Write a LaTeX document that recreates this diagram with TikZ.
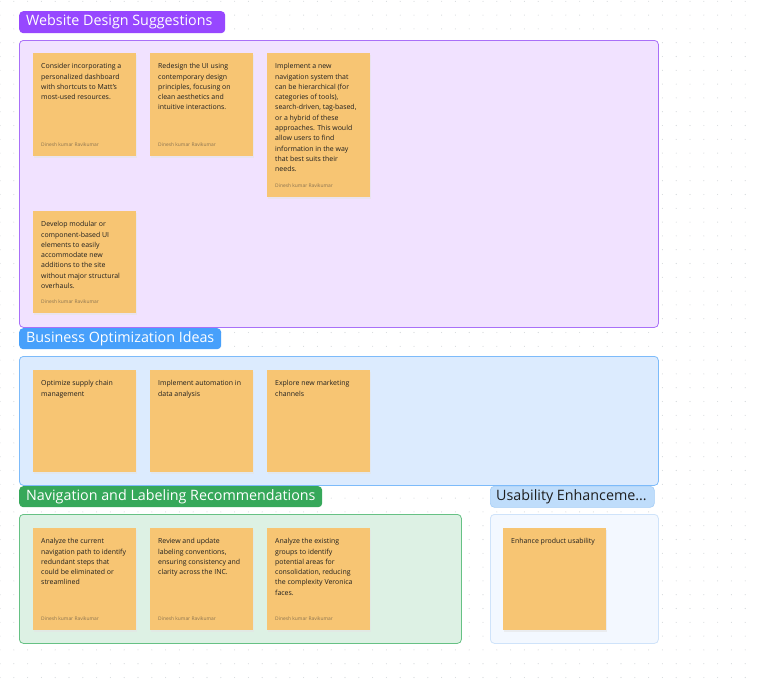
\documentclass[tikz,border=0pt]{standalone}
\usepackage{fontspec}
\setmainfont{Open Sans}
\definecolor{purpT}{HTML}{9747FF}
\definecolor{purpF}{HTML}{F1E2FF}
\definecolor{purpB}{HTML}{A970F8}
\definecolor{blueT}{HTML}{47A0FB}
\definecolor{blueF}{HTML}{DCEBFE}
\definecolor{blueB}{HTML}{7DBBFA}
\definecolor{greenT}{HTML}{36A85A}
\definecolor{greenF}{HTML}{DDF1E4}
\definecolor{greenB}{HTML}{66C184}
\definecolor{lbT}{HTML}{BFDDFB}
\definecolor{lbTB}{HTML}{A5CDF6}
\definecolor{lbF}{HTML}{F3F8FF}
\definecolor{lbB}{HTML}{CFE3FA}
\definecolor{sticky}{HTML}{F7C573}
\definecolor{ink}{HTML}{1E1E1E}
\definecolor{author}{HTML}{8A7350}
\definecolor{dotc}{HTML}{D3D7DA}
\tikzset{
  frame/.style={draw, line width=0.8pt, rounded corners=4pt, anchor=north west, inner sep=0pt},
  titlebox/.style={rounded corners=4pt, anchor=north west, inner sep=0pt, minimum height=22pt},
  titletext/.style={anchor=west, inner sep=0pt, font=\fontsize{14.3}{16}\selectfont},
  note/.style={fill=sticky, anchor=north west, inner sep=0pt, minimum width=103pt},
  shadowbox/.style={fill=black!10, opacity=0.6, anchor=north west, inner sep=0pt, minimum width=103pt},
  notetext/.style={anchor=north west, inner sep=0pt, align=left, text=ink, font=\fontsize{6.95}{10.3}\selectfont},
  authortext/.style={anchor=west, inner sep=0pt, text=author, font=\fontsize{4.9}{5}\selectfont},
}
\newcommand{\sticky}[5]{% name, x, y, height, text
  \node[shadowbox, minimum height=#4pt] at (#2+0.5,#3+1.8) {};
  \node[note, minimum height=#4pt] (#1) at (#2,#3) {};
  \node[notetext] (#1t) at ([xshift=8pt,yshift=-10.3pt]#1.north west) {#5};
}
\newcommand{\stickyauthor}[1]{%
  \node[authortext] (#1a) at ([xshift=8pt,yshift=12pt]#1.south west) {Dinesh kumar Ravikumar};
}
\begin{document}
\begin{tikzpicture}[x=1pt,y=-1pt]
\useasboundingbox (0,0) rectangle (757,680);
\fill[white] (0,0) rectangle (757,680);
% dot grid
\foreach \i in {0,...,55} {
  \foreach \j in {0,...,49} {
    \fill[dotc] (13.8*\i,1.3+13.8*\j) circle (0.55pt);
  }
}
% ---------- Website Design Suggestions
\node[titlebox, fill=purpT, minimum width=206pt] (t1) at (19,11) {};
\node[titletext, text=white] (t1t) at ([xshift=7pt]t1.west) {Website Design Suggestions};
\node[frame, draw=purpB, fill=purpF, minimum width=639pt, minimum height=287pt] (f1) at (19,40) {};
\sticky{a1}{33}{53}{103}{Consider incorporating a\\personalized dashboard\\with shortcuts to Matt's\\most-used resources.}
\stickyauthor{a1}
\sticky{a2}{150}{53}{103}{Redesign the UI using\\contemporary design\\principles, focusing on\\clean aesthetics and\\intuitive interactions.}
\stickyauthor{a2}
\sticky{a3}{267}{53}{144}{Implement a new\\navigation system that\\can be hierarchical (for\\categories of tools),\\search-driven, tag-based,\\or a hybrid of these\\approaches. This would\\allow users to find\\information in the way\\that best suits their\\needs.}
\stickyauthor{a3}
\sticky{a4}{33}{211}{102}{Develop modular or\\component-based UI\\elements to easily\\accommodate new\\additions to the site\\without major structural\\overhauls.}
\stickyauthor{a4}
% ---------- Business Optimization Ideas
\node[titlebox, fill=blueT, minimum width=202pt, minimum height=21pt] (t2) at (19,328) {};
\node[titletext, text=white] (t2t) at ([xshift=7pt]t2.west) {Business Optimization Ideas};
\node[frame, draw=blueB, fill=blueF, minimum width=639pt, minimum height=129pt] (f2) at (19,356) {};
\sticky{b1}{33}{370}{102}{Optimize supply chain\\management}
\sticky{b2}{150}{370}{102}{Implement automation in\\data analysis}
\sticky{b3}{267}{370}{102}{Explore new marketing\\channels}
% ---------- Navigation and Labeling Recommendations
\node[titlebox, fill=greenT, minimum width=303pt, minimum height=21pt] (t3) at (19,486) {};
\node[titletext, text=white] (t3t) at ([xshift=7pt]t3.west) {Navigation and Labeling Recommendations};
\node[frame, draw=greenB, fill=greenF, minimum width=442pt, minimum height=129pt] (f3) at (19,514) {};
\sticky{c1}{33}{528}{102}{Analyze the current\\navigation path to identify\\redundant steps that\\could be eliminated or\\streamlined}
\stickyauthor{c1}
\sticky{c2}{150}{528}{102}{Review and update\\labeling conventions,\\ensuring consistency and\\clarity across the INC.}
\stickyauthor{c2}
\sticky{c3}{267}{528}{102}{Analyze the existing\\groups to identify\\potential areas for\\consolidation, reducing\\the complexity Veronica\\faces.}
\stickyauthor{c3}
% ---------- Usability Enhancements
\node[titlebox, fill=lbT, draw=lbTB, line width=0.6pt, minimum width=164pt, minimum height=21pt] (t4) at (490,486) {};
\node[titletext, text=ink] (t4t) at ([xshift=6pt]t4.west) {Usability Enhanceme...};
\node[frame, draw=lbB, fill=lbF, minimum width=168pt, minimum height=129pt] (f4) at (490,514) {};
\sticky{d1}{503}{528}{102}{Enhance product usability}
\end{tikzpicture}
\end{document}
